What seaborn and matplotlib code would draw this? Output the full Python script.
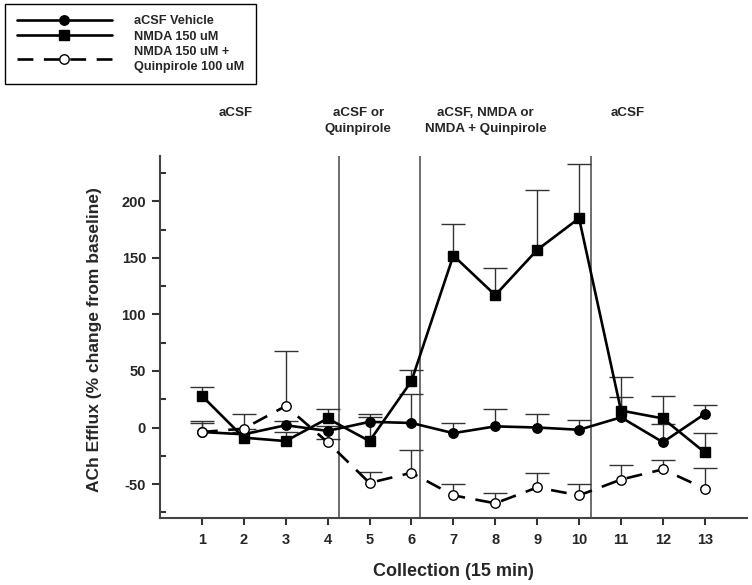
import numpy as np
import pandas as pd
import matplotlib
matplotlib.use("Agg")
import matplotlib.pyplot as plt
import matplotlib.transforms as mtransforms
from matplotlib.lines import Line2D
from matplotlib.ticker import MultipleLocator
import seaborn as sns

# ---------------- data ----------------
collections = [1, 2, 3, 4, 5, 6, 7, 8, 9, 10, 11, 12, 13]
vehicle = [-4, -6, 2, -3, 5, 4, -5, 1, 0, -2, 9, -13, 12]
vehicle_err = [10, 5, 4, 4, 4, 26, 9, 15, 12, 9, 18, 16, 8]
nmda = [28, -9, -12, 8, -12, 41, 152, 117, 157, 185, 15, 8, -22]
nmda_err = [8, 5, 8, 8, 24, 10, 28, 24, 53, 48, 30, 20, 17]
nmda_quin = [-4, -1, 19, -13, -49, -40, -60, -67, -53, -60, -46, -37, -54]
nmda_quin_err = [8, 13, 49, 3, 10, 20, 10, 9, 13, 10, 13, 8, 18]

series_names = ["aCSF Vehicle", "NMDA 150 uM", "NMDA 150 uM +\nQuinpirole 100 uM"]
phase_bounds = [4.26, 6.21, 10.29]
phase_labels = ["aCSF", "aCSF or\nQuinpirole", "aCSF, NMDA or\nNMDA + Quinpirole", "aCSF"]
phase_label_x = [1.80, 4.73, 7.77, 11.16]

# ---------------- style ----------------
sns.set_theme(style="white")
plt.rcParams["font.family"] = ["Liberation Sans", "DejaVu Sans"]
plt.rcParams["font.weight"] = "bold"
plt.rcParams["axes.unicode_minus"] = False

W, H = 752, 585
fig = plt.figure(figsize=(W / 100, H / 100), dpi=100)
ax_left, ax_right, ax_top, ax_bot = 160, 746.7, 156, 518
ax = fig.add_axes([ax_left / W, 1 - ax_bot / H, (ax_right - ax_left) / W, (ax_bot - ax_top) / H])

df = pd.DataFrame({"x": collections, "vehicle": vehicle, "nmda": nmda, "quin": nmda_quin})

specs = [
    ("vehicle", vehicle_err, dict(marker="o", markerfacecolor="black", linestyle="-")),
    ("nmda", nmda_err, dict(marker="s", markerfacecolor="black", linestyle="-")),
    ("quin", nmda_quin_err, dict(marker="o", markerfacecolor="white", linestyle=(0, (6, 4)))),
]

for col, err, kw in specs:
    _, caps, _ = ax.errorbar(df["x"], df[col], yerr=[np.zeros(len(err)), err], fmt="none",
                             ecolor="#333333", elinewidth=1.0, capsize=8.5, capthick=1.0,
                             zorder=1.5)
    # only the upper cap is drawn (one-sided error bars)
    caps[0].set_visible(False)

for col, err, kw in specs:
    sns.lineplot(data=df, x="x", y=col, ax=ax, color="black", lw=1.9,
                 markersize=6.8, markeredgecolor="black", markeredgewidth=1.0,
                 errorbar=None, legend=False, zorder=3, **kw)

for xb in phase_bounds:
    ax.axvline(xb, color="#555555", lw=1.2, zorder=1)

ax.set_xlim(0, 14)
ax.set_ylim(-80, 240)
ax.set_xticks(collections)
ax.set_xticklabels([str(c) for c in collections], fontsize=10.5, fontweight="bold")
ax.yaxis.set_minor_locator(MultipleLocator(25))
ax.set_yticks([-50, 0, 50, 100, 150, 200])
ax.set_yticklabels(["-50", "0", "50", "100", "150", "200"], fontsize=10.5, fontweight="bold")

for s in ["top", "right"]:
    ax.spines[s].set_visible(False)
for s in ["left", "bottom"]:
    ax.spines[s].set_color("#444444")
    ax.spines[s].set_linewidth(1.5)

ax.tick_params(axis="x", which="major", direction="out", length=5, width=1.5,
               color="#333333", bottom=True, pad=6)
ax.tick_params(axis="y", which="major", direction="out", length=6, width=1.5,
               color="#333333", left=True, pad=4)
ax.tick_params(axis="y", which="minor", direction="in", length=4, width=1.5,
               color="#333333", left=True)

ax.set_xlabel("Collection (15 min)", fontsize=13, fontweight="bold")
ax.set_ylabel("ACh Efflux (% change from baseline)", fontsize=12.5, fontweight="bold")
ax.xaxis.set_label_coords(0.5, -(572 - ax_bot) / (ax_bot - ax_top))
ax.xaxis.label.set_va("center")
ax.yaxis.set_label_coords((95 - ax_left) / (ax_right - ax_left), (ax_bot - 340) / (ax_bot - ax_top))
ax.yaxis.label.set_va("center")

trans = mtransforms.blended_transform_factory(ax.transData, fig.transFigure)
for lx, lab in zip(phase_label_x, phase_labels):
    ax.text(lx, 1 - 107 / H, lab, transform=trans, ha="center", va="top",
            fontsize=9.6, fontweight="bold", linespacing=1.4)

handles = [
    Line2D([], [], color="black", lw=1.9, marker="o", markersize=6.8, markerfacecolor="black"),
    Line2D([], [], color="black", lw=1.9, marker="s", markersize=6.8, markerfacecolor="black"),
    Line2D([], [], color="black", lw=1.9, marker="o", markersize=6.8, markerfacecolor="white",
           linestyle=(0, (6, 4))),
]
leg = fig.legend(handles, series_names, loc="upper left", bbox_to_anchor=(5 / W, 1 - 4 / H),
                 borderaxespad=0, fancybox=False, frameon=True,
                 handlelength=7.5, handletextpad=1.7, labelspacing=0.25,
                 borderpad=0.9, prop={"weight": "bold", "size": 9.2})
for t in leg.get_texts():
    t.set_linespacing(1.3)
leg.get_frame().set_edgecolor("black")
leg.get_frame().set_linewidth(1.0)
leg.get_frame().set_alpha(1)

fig.savefig("out.png", dpi=100)
